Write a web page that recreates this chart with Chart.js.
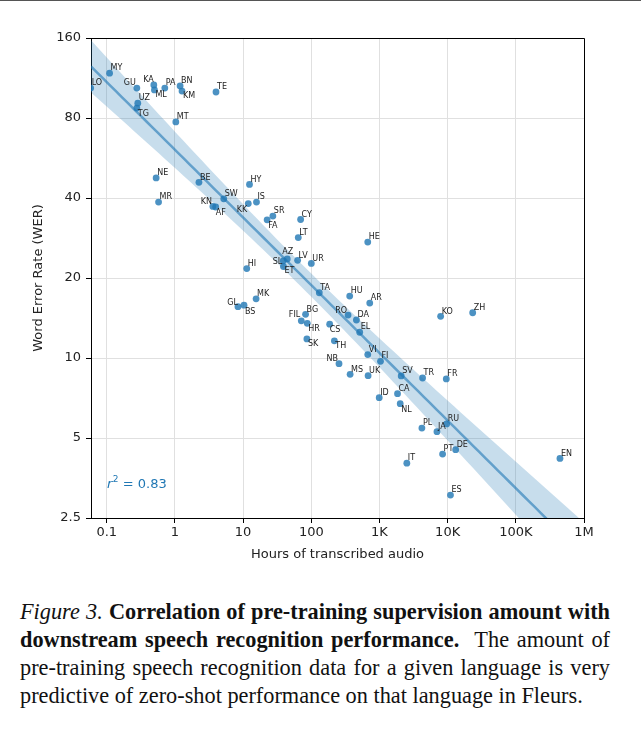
<!DOCTYPE html>
<html>
<head>
<meta charset="utf-8">
<script src="https://cdn.jsdelivr.net/npm/chart.js@4.4.0/dist/chart.umd.min.js"></script>
<style>
  body { margin: 0; background: #fff; width: 641px; height: 729px; overflow: hidden; position: relative; }
  #topline { position: absolute; left: 0; top: 0; width: 641px; height: 1px; background: #555; }
  #wrap { position: absolute; left: 0; top: 0; width: 641px; height: 575px; }
  #caption { position: absolute; left: 20px; top: 598px; width: 590px; font-family: 'Liberation Serif', serif; font-size: 22.3px; line-height: 28px; color: #111; }
  #caption div { text-align: justify; text-align-last: justify; white-space: nowrap; }
  #caption div.last { text-align-last: left; }
</style>
</head>
<body>
<div id="topline"></div>
<div id="wrap"><canvas id="werChart" width="641" height="575"></canvas></div>
<div id="caption">
  <div><i>Figure 3.</i> <b>Correlation of pre-training supervision amount with</b></div>
  <div><b>downstream speech recognition performance.</b>&nbsp; The amount of</div>
  <div>pre-training speech recognition data for a given language is very</div>
  <div class="last">predictive of zero-shot performance on that language in Fleurs.</div>
</div>
<script>
// languages, hours of training audio, Fleurs WER
const languages = ['LO','MY','GU','KA','ML','PA','BN','KM','TE','UZ','TG','MT',
  'NE','MR','BE','SW','KN','AF','HY','IS','KK','SR','FA','CY','LT','AZ','SL','ET','LV','UR','HI','TA','MK',
  'GL','BS','HU','AR','BG','FIL','HR','RO','DA','EL','CS','SK','TH','NB','VI','FI','MS','UK','ID',
  'HE','KO','ZH','SV','TR','FR','CA','NL','PL','JA','RU','PT','DE','IT','ES','EN'];
const hours = [0.058, 0.11, 0.276, 0.49, 0.50, 0.71, 1.19, 1.27, 4.0, 0.285, 0.276, 1.03,
  0.53, 0.575, 2.25, 5.2, 3.6, 3.96, 12.4, 15.7, 11.9, 27.3, 22.5, 69.7, 64.4, 44.4, 38.7, 39, 63, 100, 11.3, 131, 15.5,
  8.4, 10.3, 366, 720, 82.4, 71.3, 87.3, 346, 459, 513, 186, 86.2, 218, 255, 673, 1035, 371, 681, 991,
  673, 7890, 23300, 2083, 4290, 9550, 1840, 2015, 4190, 6970, 9660, 8430, 13100, 2520, 11000, 444000];
const wer = [103.7, 118, 103.7, 106.5, 102, 103.7, 105.6, 101, 100.2, 91, 87.2, 77.3,
  47.6, 38.6, 45.8, 39.7, 37.2, 37.0, 45.0, 38.6, 38.1, 34.2, 33.1, 33.2, 28.4, 23.6, 23.2, 22.1, 23.3, 22.7, 21.7, 17.6, 16.7,
  15.6, 15.8, 17.1, 16.1, 14.6, 13.8, 13.5, 14.5, 13.9, 12.5, 13.4, 11.8, 11.6, 9.52, 10.3, 9.72, 8.68, 8.58, 7.09,
  27.3, 14.35, 14.8, 8.56, 8.41, 8.34, 7.34, 6.73, 5.45, 5.28, 5.65, 4.35, 4.52, 4.02, 3.05, 4.19];

const xTicks = [0.1, 1, 10, 100, 1e3, 1e4, 1e5, 1e6];
const xTickLabels = ['0.1', '1', '10', '100', '1K', '10K', '100K', '1M'];
const yTicks = [2.5, 5, 10, 20, 40, 80, 160];
const yTickLabels = ['2.5', '5', '10', '20', '40', '80', '160'];
const xMin = 0.0587, xMax = 1e6;

// label nudges where the text is not up-right of the dot: [dx, dy, align]
const labelNudge = {
  GU: [-1, -3, 'right'], KA: [0, -2.6, 'right'], ML: [1, 7.4, 'left'], KM: [1, 7, 'left'],
  TG: [1, 7.6, 'left'], KN: [-1, -2.3, 'right'], AF: [0, 8.3, 'left'], KK: [-1, 8, 'right'],
  FA: [1, 8.3, 'left'], AZ: [-5, -4.7, 'left'], SL: [-1, 2.7, 'right'], ET: [1, 7, 'left'],
  GL: [0, -2, 'right'], BS: [1, 9, 'left'], FIL: [-1, -3.4, 'right'], HR: [1, 7.7, 'left'],
  RO: [-1, -2, 'right'], CS: [0, 8, 'left'], SK: [1, 7.4, 'left'], TH: [1, 7.3, 'left'],
  NB: [-1, -3, 'right'], NL: [1, 8.3, 'left']
};

// least squares fit in log-log space with a 95% band
const lx = hours.map(v => Math.log10(v));
const ly = wer.map(v => Math.log10(v));
const n = lx.length;
const mx = lx.reduce((a, b) => a + b, 0) / n;
const my = ly.reduce((a, b) => a + b, 0) / n;
let sxx = 0, sxy = 0;
for (let i = 0; i < n; i++) { sxx += (lx[i] - mx) ** 2; sxy += (lx[i] - mx) * (ly[i] - my); }
const slope = sxy / sxx;
const icpt = my - slope * mx;
let sse = 0;
for (let i = 0; i < n; i++) sse += (ly[i] - (icpt + slope * lx[i])) ** 2;
const sres = Math.sqrt(sse / (n - 2));
const tval = 1.997;

const fitLine = [], bandLow = [], bandHigh = [];
const steps = 80;
for (let k = 0; k <= steps; k++) {
  const x = Math.log10(xMin) + k * (Math.log10(xMax) - Math.log10(xMin)) / steps;
  const yhat = icpt + slope * x;
  const h = tval * sres * Math.sqrt(1 / n + (x - mx) ** 2 / sxx);
  fitLine.push({ x: 10 ** x, y: 10 ** yhat });
  bandLow.push({ x: 10 ** x, y: 10 ** (yhat - h) });
  bandHigh.push({ x: 10 ** x, y: 10 ** (yhat + h) });
}

const pointLabels = {
  id: 'pointLabels',
  afterDatasetsDraw(chart) {
    const ctx = chart.ctx;
    const meta = chart.getDatasetMeta(0);
    ctx.save();
    ctx.font = '8px "DejaVu Sans"';
    ctx.fillStyle = '#222';
    ctx.textBaseline = 'alphabetic';
    meta.data.forEach((pt, i) => {
      const name = languages[i];
      const [dx, dy, align] = labelNudge[name] || [1, -2.8, 'left'];
      ctx.textAlign = align;
      ctx.fillText(name, pt.x + dx, pt.y + dy);
    });
    ctx.restore();
  }
};

const frameAndNote = {
  id: 'frameAndNote',
  afterDraw(chart) {
    const { ctx, chartArea: a } = chart;
    ctx.save();
    ctx.strokeStyle = '#000';
    ctx.lineWidth = 1;
    ctx.beginPath();
    ctx.moveTo(a.left, a.top + 0.5);
    ctx.lineTo(a.right + 0.5, a.top + 0.5);
    ctx.lineTo(a.right + 0.5, a.bottom);
    ctx.stroke();
    // r^2 note
    ctx.fillStyle = '#1f77b4';
    ctx.textBaseline = 'alphabetic';
    ctx.textAlign = 'left';
    ctx.font = 'italic 13px "DejaVu Sans"';
    ctx.fillText('r', 107, 488);
    let x = 107 + ctx.measureText('r').width + 0.5;
    ctx.font = '9px "DejaVu Sans"';
    ctx.fillText('2', x, 482);
    x += ctx.measureText('2').width;
    ctx.font = '13px "DejaVu Sans"';
    ctx.fillText(' = 0.83', x, 488);
    ctx.restore();
  }
};

const ctx = document.getElementById('werChart').getContext('2d');
new Chart(ctx, {
  type: 'scatter',
  data: {
    datasets: [
      {
        data: hours.map((h, i) => ({ x: h, y: wer[i] })),
        backgroundColor: 'rgba(31,119,180,0.8)',
        borderWidth: 0,
        pointRadius: 3.4,
        order: 0
      },
      {
        type: 'line',
        data: fitLine,
        borderColor: 'rgba(31,119,180,0.6)',
        borderWidth: 2.5,
        pointRadius: 0,
        fill: false,
        order: 1
      },
      {
        type: 'line',
        data: bandLow,
        borderWidth: 0,
        borderColor: 'rgba(0,0,0,0)',
        pointRadius: 0,
        fill: false,
        order: 3
      },
      {
        type: 'line',
        data: bandHigh,
        borderWidth: 0,
        borderColor: 'rgba(0,0,0,0)',
        backgroundColor: 'rgba(31,119,180,0.25)',
        pointRadius: 0,
        fill: '-1',
        order: 2
      }
    ]
  },
  options: {
    responsive: false,
    animation: false,
    layout: { padding: { top: 38, right: 57, left: 0, bottom: 0 } },
    plugins: {
      legend: { display: false },
      tooltip: { enabled: false }
    },
    scales: {
      x: {
        type: 'logarithmic',
        min: xMin,
        max: xMax,
        afterBuildTicks: (scale) => { scale.ticks = xTicks.map(v => ({ value: v })); },
        afterFit: (scale) => { scale.height = 57; },
        grid: { color: '#e0e0e0', tickColor: '#000', tickLength: 5 },
        border: { color: '#000', width: 1 },
        ticks: {
          color: '#222',
          font: { family: 'DejaVu Sans', size: 13 },
          padding: 2,
          autoSkip: false,
          maxRotation: 0,
          callback: (v, i) => xTickLabels[i]
        },
        title: {
          display: true,
          text: 'Hours of transcribed audio',
          color: '#222',
          font: { family: 'DejaVu Sans', size: 13 },
          padding: { top: 0, bottom: 13 }
        }
      },
      y: {
        type: 'logarithmic',
        min: 2.5,
        max: 160,
        afterBuildTicks: (scale) => { scale.ticks = yTicks.map(v => ({ value: v })); },
        afterFit: (scale) => { scale.width = 91; },
        grid: { color: '#e0e0e0', tickColor: '#000', tickLength: 5 },
        border: { color: '#000', width: 1 },
        ticks: {
          color: '#222',
          font: { family: 'DejaVu Sans', size: 13 },
          padding: 5,
          autoSkip: false,
          callback: (v, i) => yTickLabels[i]
        },
        title: {
          display: true,
          text: 'Word Error Rate (WER)',
          color: '#222',
          font: { family: 'DejaVu Sans', size: 13 },
          padding: { top: 31, bottom: 0 }
        }
      }
    }
  },
  plugins: [pointLabels, frameAndNote]
});
</script>
</body>
</html>
